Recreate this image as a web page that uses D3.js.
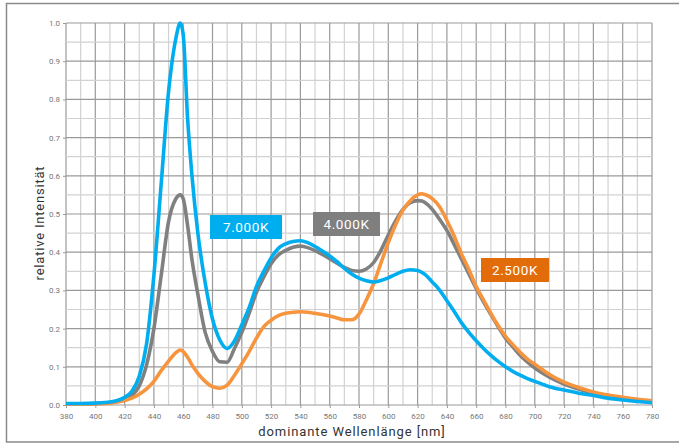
<!DOCTYPE html>
<html>
<head>
<meta charset="utf-8">
<script src="https://cdn.jsdelivr.net/npm/d3@7"></script>
<style>
  html, body { margin: 0; padding: 0; background: #fff; }
  svg { display: block; }
</style>
</head>
<body>
<svg id="chart" width="679" height="443"></svg>
<script>
const wavelengths = [380,390,400,410,415,420,425,430,435,440,445,450,455,458,460,463,466,470,475,480,485,490,495,500,505,510,515,520,525,530,535,540,545,550,555,560,565,570,575,580,585,590,595,600,605,610,615,620,623,625,630,635,640,645,650,655,660,665,670,675,680,685,690,695,700,710,720,730,740,750,760,770,780];

const series7000 = [0.004,0.004,0.005,0.008, 0.012,0.02,0.036,0.075,0.16,0.34,0.58,0.82,0.96, 1.0,0.97,0.75,0.6,0.45, 0.32,0.225,0.17,0.148,0.168,0.21, 0.255,0.31,0.35,0.385,0.41,0.422,0.428,0.43,0.425,0.415, 0.403,0.39,0.375,0.358,0.343,0.332,0.325,0.322,0.326,0.333, 0.342,0.35,0.354,0.352,0.347,0.342,0.322,0.301,0.273,0.245,0.215, 0.19,0.168,0.148,0.13,0.114,0.1,0.088,0.078,0.069,0.062, 0.048,0.039,0.031,0.025,0.018,0.013,0.009,0.006];

const series4000 = [0.003,0.003,0.004,0.006, 0.009,0.014,0.025,0.05,0.105,0.2,0.34,0.48,0.54, 0.55,0.54,0.47,0.38,0.29, 0.19,0.14,0.113,0.112,0.148,0.19, 0.24,0.295,0.335,0.37,0.393,0.405,0.413,0.416,0.412,0.404, 0.394,0.383,0.371,0.36,0.352,0.35,0.356,0.373,0.405,0.445, 0.482,0.512,0.53,0.535,0.534,0.53,0.512,0.486,0.457,0.42,0.382, 0.343,0.305,0.27,0.237,0.205,0.175,0.152,0.13,0.112,0.097, 0.073,0.055,0.042,0.031,0.024,0.018,0.013,0.01];

const series2500 = [0.002,0.002,0.003,0.005, 0.008,0.012,0.018,0.028,0.042,0.062,0.09,0.115,0.137, 0.144,0.14,0.125,0.105,0.083, 0.062,0.048,0.044,0.052,0.078,0.108, 0.14,0.175,0.205,0.222,0.234,0.24,0.243,0.244,0.243,0.24, 0.237,0.233,0.228,0.223,0.223,0.238,0.275,0.318,0.372,0.425, 0.472,0.51,0.535,0.55,0.553,0.551,0.54,0.519,0.483,0.442,0.395, 0.355,0.31,0.275,0.24,0.208,0.18,0.158,0.138,0.12,0.107, 0.08,0.06,0.046,0.034,0.026,0.02,0.015,0.011];

const xTicks = d3.range(380, 781, 20);
const yTicks = [0.0,0.1,0.2,0.3,0.4,0.5,0.6,0.7,0.8,0.9,1.0];
const seriesNames = ["4.000K", "2.500K", "7.000K"];
const xTitle = "dominante Wellenlänge [nm]";
const yTitle = "relative Intensität";

const svg = d3.select("#chart");
const x = d3.scaleLinear().domain([380, 780]).range([66, 652]);
const y = d3.scaleLinear().domain([0, 1]).range([405, 23]);

// outer frame
svg.append("rect").attr("x", 6.5).attr("y", 3.5).attr("width", 720).attr("height", 438.5)
  .attr("fill", "none").attr("stroke", "#8a8a8a").attr("stroke-width", 1.5);

// grid
const g = svg.append("g");
d3.range(380, 781, 10).forEach(v => {
  const major = v % 20 === 0;
  g.append("line").attr("x1", x(v)).attr("x2", x(v)).attr("y1", y(0)).attr("y2", y(1))
    .attr("stroke", major ? "#9a9a9a" : "#d2d2d2").attr("stroke-width", 1.2);
});
d3.range(0, 21).forEach(i => {
  const v = i * 0.05;
  const major = i % 2 === 0;
  g.append("line").attr("x1", x(380)).attr("x2", x(780)).attr("y1", y(v)).attr("y2", y(v))
    .attr("stroke", major ? "#9a9a9a" : "#d2d2d2").attr("stroke-width", 1.2);
});

// axes
const xAxis = d3.axisBottom(x).tickValues(xTicks).tickSize(3).tickPadding(5).tickFormat(d3.format("d"));
const yAxis = d3.axisLeft(y).tickValues(yTicks).tickSize(3).tickPadding(3).tickFormat(d3.format(".1f"));
const xg = svg.append("g").attr("transform", `translate(0,${y(0)})`).call(xAxis);
const yg = svg.append("g").attr("transform", `translate(${x(380)},0)`).call(yAxis);
[xg, yg].forEach(a => {
  a.select(".domain").remove();
  a.selectAll(".tick line").attr("stroke", "#9a9a9a");
  a.selectAll("text").attr("fill", "#777").attr("font-family", "Roboto, sans-serif").attr("font-size", 8);
});

// lines
const data = [series4000, series2500, series7000];
const colors = ["#808080", "#f7943e", "#00aeef"];
const line = d3.line().x((d, i) => x(wavelengths[i])).y(d => y(d)).curve(d3.curveMonotoneX);
data.forEach((s, k) => {
  svg.append("path").datum(s).attr("d", line).attr("fill", "none")
    .attr("stroke", colors[k]).attr("stroke-width", 3.6).attr("stroke-linejoin", "round");
});

// labels
const labels = [
  {name: seriesNames[2], fill: "#00aeef", x0: 210, y0: 215, w: 72, h: 24},
  {name: seriesNames[0], fill: "#7f7f7f", x0: 313, y0: 212, w: 67, h: 24},
  {name: seriesNames[1], fill: "#e36c0a", x0: 481, y0: 258, w: 68, h: 24}
];
labels.forEach(l => {
  svg.append("rect").attr("x", l.x0).attr("y", l.y0).attr("width", l.w).attr("height", l.h).attr("fill", l.fill);
  svg.append("text").attr("x", l.x0 + l.w / 2).attr("y", l.y0 + l.h / 2 + 5)
    .attr("text-anchor", "middle").attr("fill", "#fff").attr("letter-spacing", 0.6)
    .attr("font-family", "Roboto, sans-serif").attr("font-size", 13.5).text(l.name);
});

// titles
svg.append("text").attr("x", 352).attr("y", 436).attr("text-anchor", "middle")
  .attr("fill", "#333").attr("font-family", "Roboto, sans-serif").attr("font-size", 13).attr("letter-spacing", 0.9).text(xTitle);
svg.append("text").attr("transform", "translate(43.5,223) rotate(-90)").attr("text-anchor", "middle")
  .attr("fill", "#333").attr("font-family", "Roboto, sans-serif").attr("font-size", 13).attr("letter-spacing", 0.8).text(yTitle);
</script>
</body>
</html>
